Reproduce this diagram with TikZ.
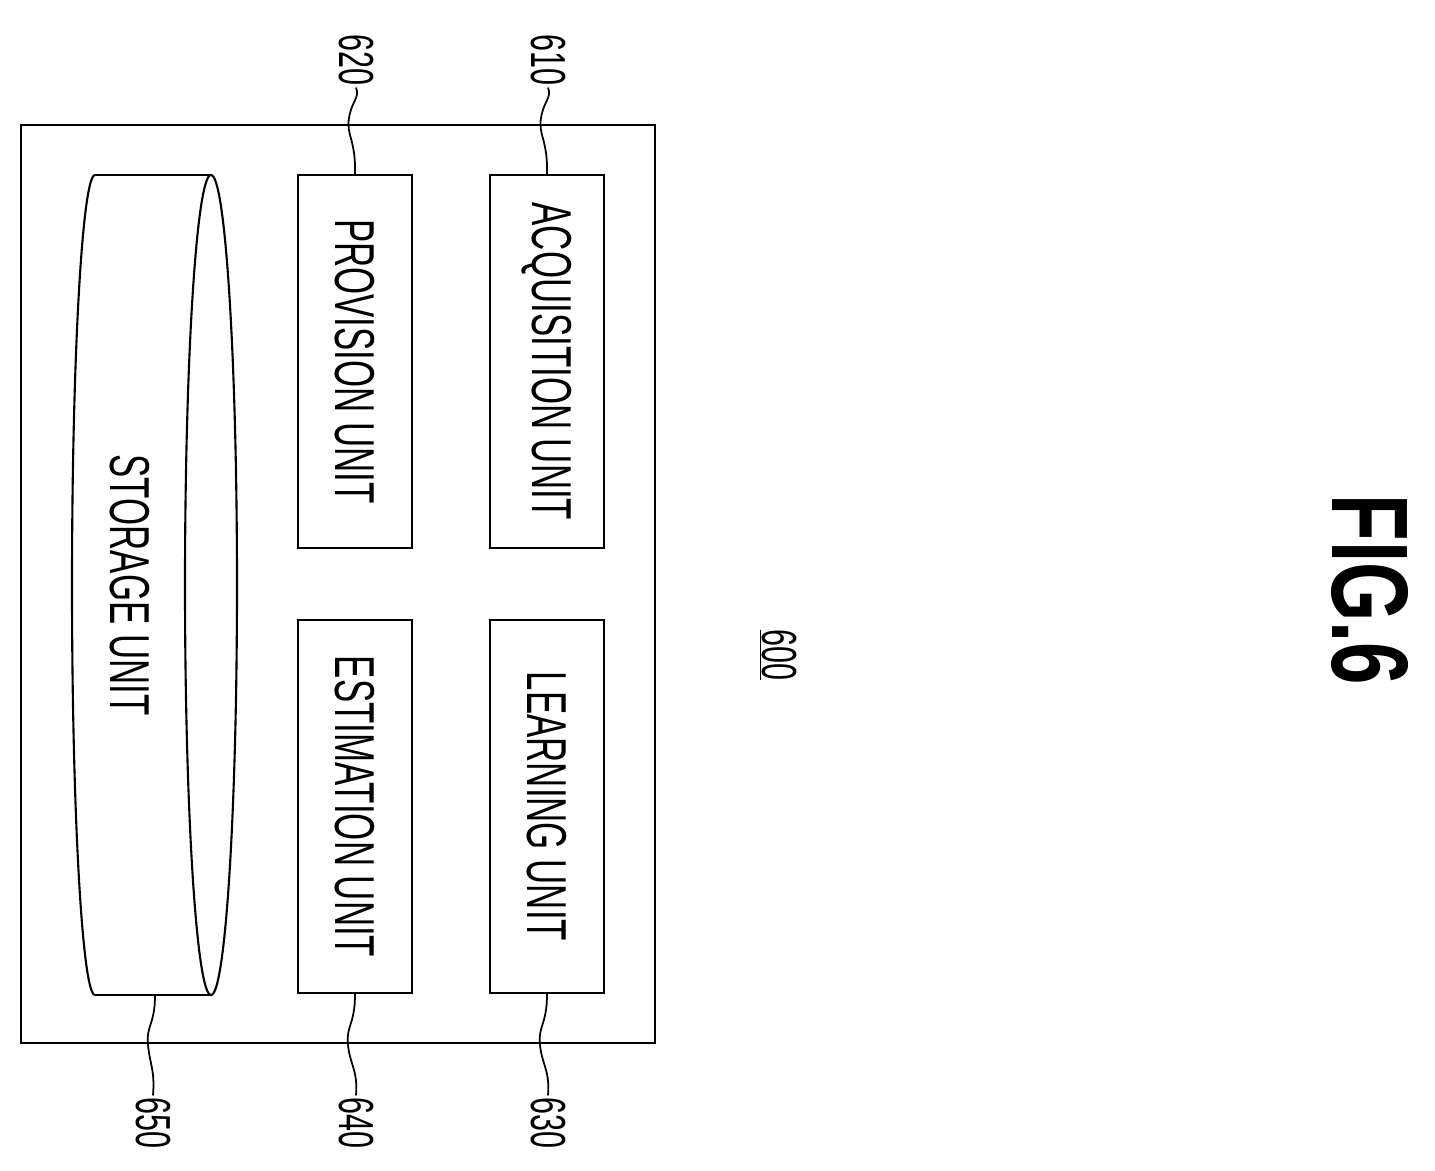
\documentclass[tikz,border=0pt]{standalone}
\usepackage{fontspec}
\setmainfont{Liberation Sans}
\usetikzlibrary{positioning}
\tikzset{
  unitbox/.style={draw, line width=1.2pt, minimum width=2.28cm, minimum height=7.46cm},
  unittext/.style={rotate=-90, font=\fontsize{32}{34}\selectfont},
  reflabel/.style={rotate=-90, font=\fontsize{28}{30}\selectfont, inner sep=1pt},
  leader/.style={line width=1pt}
}
\newcommand{\narrow}[1]{\scalebox{0.62}[1]{#1}}
\begin{document}
\begin{tikzpicture}[x=0.02cm, y=-0.02cm]
  \useasboundingbox (0,0) rectangle (1435,1170);
  % Outer frame
  \draw[line width=1.2pt] (21,125) rectangle (655,1043);

  % Units
  \node[unitbox] (acq) at (547,361.5) {};
  \node[unittext] at (acq.center) {\narrow{ACQUISITION UNIT}};
  \node[unitbox] (lrn) at (547,806.5) {};
  \node[unittext] at (lrn.center) {\narrow{LEARNING UNIT}};
  \node[unitbox] (prv) at (355,361.5) {};
  \node[unittext] at (prv.center) {\narrow{PROVISION UNIT}};
  \node[unitbox] (est) at (355,806.5) {};
  \node[unittext] at (est.center) {\narrow{ESTIMATION UNIT}};

  % Storage cylinder
  \draw[line width=1.2pt] (95,175) -- (211,175);
  \draw[line width=1.2pt] (95,995) -- (211,995);
  \draw[line width=1.2pt] (211,585) ellipse [x radius=26, y radius=410];
  \draw[line width=1.2pt] (95,175) arc[start angle=-90, end angle=-270, x radius=23, y radius=410];
  \coordinate (sto) at (155,995);
  \node[unittext] at (130,585) {\narrow{STORAGE UNIT}};

  % Reference numerals
  \node[reflabel] (l610) at (548,60) {\narrow{610}};
  \node[reflabel] (l620) at (356,60) {\narrow{620}};
  \node[reflabel] (l630) at (548,1123) {\narrow{630}};
  \node[reflabel] (l640) at (356,1123) {\narrow{640}};
  \node[reflabel] (l650) at (153,1123) {\narrow{650}};

  \draw[leader] (acq.north) .. controls (548,140) and (538,135) .. (541,118) .. controls (544,100) and (552,98) .. (l610.east);
  \draw[leader] (prv.north) .. controls (356,140) and (346,135) .. (349,118) .. controls (352,100) and (360,98) .. (l620.east);
  \draw[leader] (lrn.south) .. controls (547,1025) and (538,1025) .. (540,1045) .. controls (542,1065) and (550,1070) .. (l630.west);
  \draw[leader] (est.south) .. controls (355,1025) and (346,1025) .. (348,1045) .. controls (350,1065) and (358,1070) .. (l640.west);
  \draw[leader] (sto) .. controls (155,1025) and (146,1025) .. (148,1045) .. controls (150,1065) and (155,1070) .. (l650.west);

  % Device number and figure title
  \node[reflabel] (dev) at (778,655) {\narrow{\underline{600}}};
  \node[rotate=-90, font=\bfseries\fontsize{62}{64}\selectfont] (fig) at (1370,590) {\scalebox{0.7}[1]{FIG.6}};
\end{tikzpicture}
\end{document}
